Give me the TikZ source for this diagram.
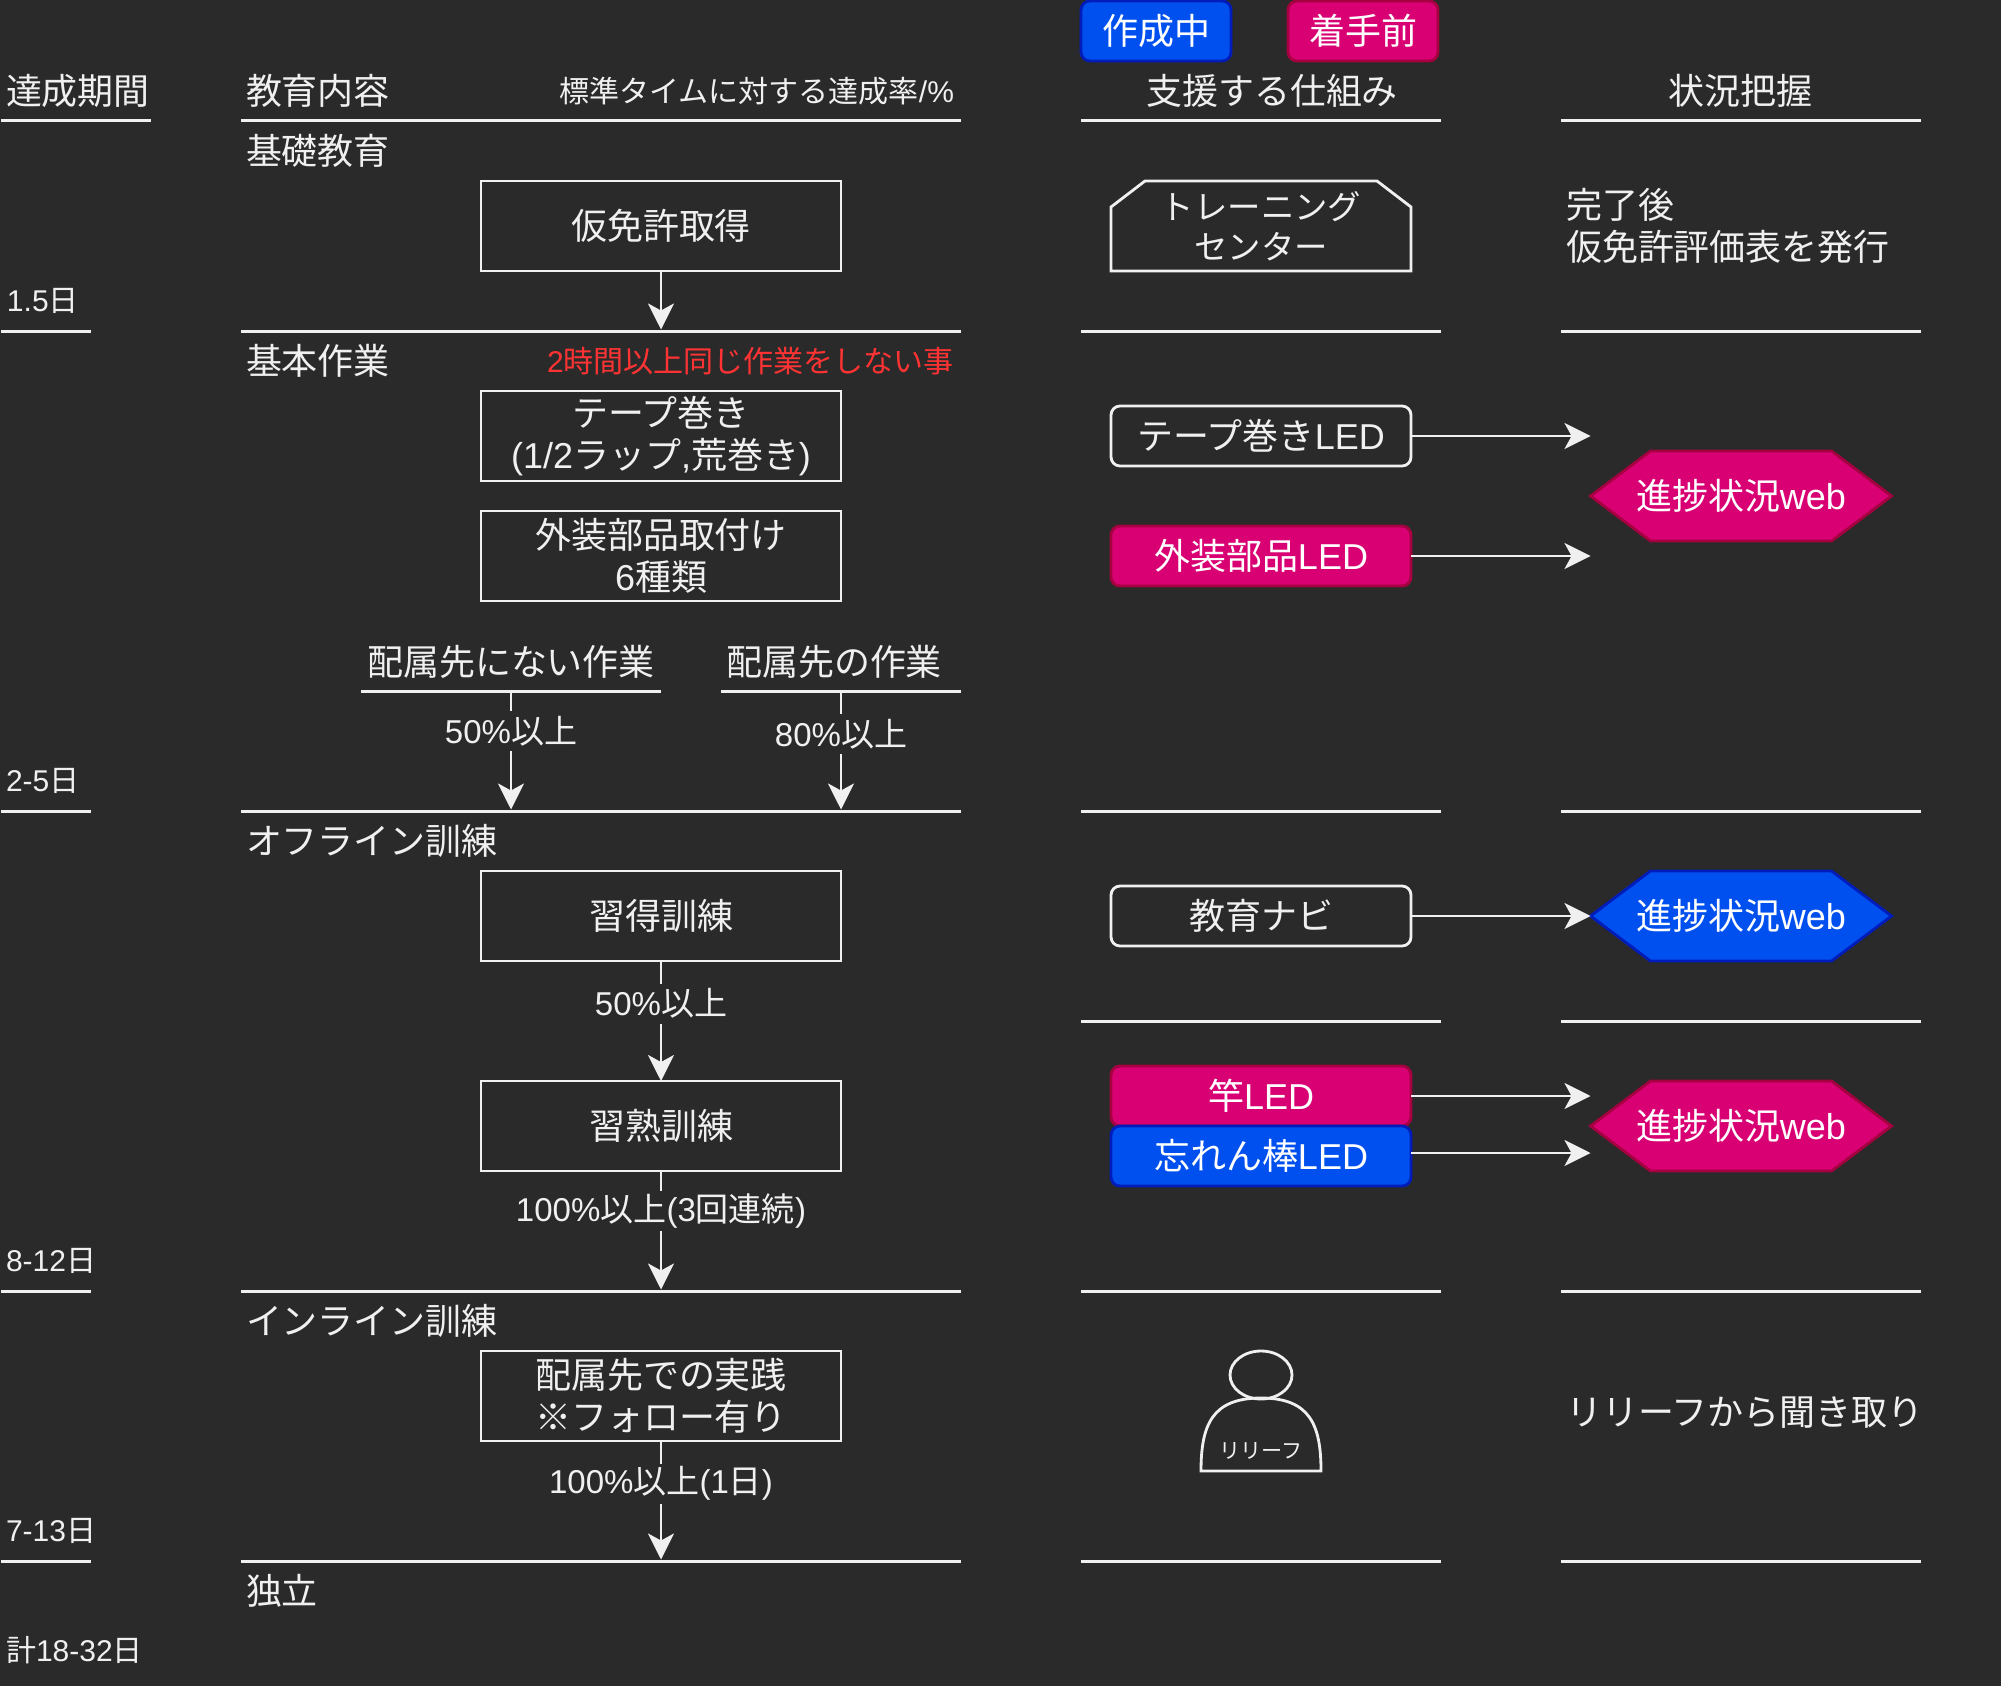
\documentclass[tikz,border=0pt]{standalone}
\usepackage{xcolor}
\usepackage{fontspec}
\setmainfont{Noto Sans CJK JP}
\newfontfamily\lat{Liberation Sans}
\usepackage{tikz}
\usetikzlibrary{arrows.meta, positioning, shapes.geometric, shapes.symbols}

\definecolor{bgc}{HTML}{2A2A2A}
\definecolor{fgc}{HTML}{F0F0F0}
\definecolor{pinkc}{HTML}{D80073}
\definecolor{pinkd}{HTML}{A50040}
\definecolor{bluec}{HTML}{0050EF}
\definecolor{blued}{HTML}{001DBC}
\definecolor{redc}{HTML}{FF3333}

\begin{document}
\begin{tikzpicture}[
    fgline/.style={draw=fgc, line width=0.8pt},
    rule/.style={rectangle, fill=fgc, inner sep=0pt, outer sep=0pt, minimum height=0.03cm},
    maintxt/.style={inner sep=0pt, outer sep=0pt, text=fgc, font=\fontsize{10.24pt}{12pt}\selectfont, align=center},
    smalltxt/.style={maintxt, font=\fontsize{8.54pt}{10pt}\selectfont},
    flowbox/.style={rectangle, fgline, maintxt, minimum width=3.6cm, minimum height=0.9cm},
    ledbox/.style={rectangle, maintxt, fgline, rounded corners=0.09cm, minimum width=3.0cm, minimum height=0.6cm},
    tagbox/.style={ledbox, minimum width=1.5cm},
    hexbox/.style={signal, signal to=west and east, signal pointer angle=73.74, maintxt, inner xsep=-0.145cm, minimum width=3.0cm, minimum height=0.9cm},
    pinkfill/.style={fill=pinkc, draw=pinkd, line width=0.8pt, text=white},
    bluefill/.style={fill=bluec, draw=blued, line width=0.8pt, text=white},
    arrow/.style={fgline, -{Stealth[length=0.26cm, width=0.26cm, inset=0.07cm]}},
    edgetxt/.style={maintxt, fill=bgc, minimum height=0.4cm, font=\fontsize{9.4pt}{11pt}\selectfont}
]
    \path [use as bounding box, fill=bgc] (0,0) rectangle (20.01,-16.86);

    % Legend
    \node (tag_wip) [tagbox, bluefill, at={(11.56,-0.31)}] {作成中};
    \node (tag_todo) [tagbox, pinkfill, at={(13.63,-0.31)}] {着手前};

    % Column heads
    \node (head_term) [maintxt, anchor=west, at={(0.06,-0.91)}] {達成期間};
    \node (head_edu) [maintxt, anchor=west, at={(2.46,-0.91)}] {教育内容};
    \node (head_rate) [smalltxt, anchor=east, at={(9.54,-0.91)}] {標準タイムに対する達成率{\lat /\%}};
    \node (head_sup) [maintxt, at={(12.72,-0.91)}] {支援する仕組み};
    \node (head_stat) [maintxt, at={(17.4,-0.91)}] {状況把握};

    % Rules: term column
    \node (rule_term0) [rule, minimum width=1.5cm, at={(0.76,-1.21)}] {};
    \node (rule_term1) [rule, minimum width=0.9cm, at={(0.46,-3.31)}] {};
    \node (rule_term2) [rule, minimum width=0.9cm, at={(0.46,-8.11)}] {};
    \node (rule_term3) [rule, minimum width=0.9cm, at={(0.46,-12.91)}] {};
    \node (rule_term4) [rule, minimum width=0.9cm, at={(0.46,-15.61)}] {};

    % Rules: education column
    \node (rule_edu0) [rule, minimum width=7.2cm, at={(6.01,-1.21)}] {};
    \node (rule_edu1) [rule, minimum width=7.2cm, at={(6.01,-3.31)}] {};
    \node (rule_edu2) [rule, minimum width=7.2cm, at={(6.01,-8.11)}] {};
    \node (rule_edu3) [rule, minimum width=7.2cm, at={(6.01,-12.91)}] {};
    \node (rule_edu4) [rule, minimum width=7.2cm, at={(6.01,-15.61)}] {};

    % Rules: support column
    \node (rule_sup0) [rule, minimum width=3.6cm, at={(12.61,-1.21)}] {};
    \node (rule_sup1) [rule, minimum width=3.6cm, at={(12.61,-3.31)}] {};
    \node (rule_sup2) [rule, minimum width=3.6cm, at={(12.61,-8.11)}] {};
    \node (rule_sup3) [rule, minimum width=3.6cm, at={(12.61,-10.21)}] {};
    \node (rule_sup4) [rule, minimum width=3.6cm, at={(12.61,-12.91)}] {};
    \node (rule_sup5) [rule, minimum width=3.6cm, at={(12.61,-15.61)}] {};

    % Rules: status column
    \node (rule_stat0) [rule, minimum width=3.6cm, at={(17.41,-1.21)}] {};
    \node (rule_stat1) [rule, minimum width=3.6cm, at={(17.41,-3.31)}] {};
    \node (rule_stat2) [rule, minimum width=3.6cm, at={(17.41,-8.11)}] {};
    \node (rule_stat3) [rule, minimum width=3.6cm, at={(17.41,-10.21)}] {};
    \node (rule_stat4) [rule, minimum width=3.6cm, at={(17.41,-12.91)}] {};
    \node (rule_stat5) [rule, minimum width=3.6cm, at={(17.41,-15.61)}] {};

    % Term labels
    \node (term_a) [smalltxt, anchor=west, at={(0.07,-3.01)}] {{\lat 1.5}日};
    \node (term_b) [smalltxt, anchor=west, at={(0.06,-7.81)}] {{\lat 2-5}日};
    \node (term_c) [smalltxt, anchor=west, at={(0.06,-12.61)}] {{\lat 8-12}日};
    \node (term_d) [smalltxt, anchor=west, at={(0.06,-15.31)}] {{\lat 7-13}日};
    \node (term_sum) [smalltxt, anchor=west, at={(0.06,-16.5)}] {計{\lat 18-32}日};

    % Section 1: basics
    \node (base_lbl) [maintxt, anchor=west, at={(2.46,-1.51)}] {基礎教育};
    \node (kari) [flowbox, below=0.6cm of rule_edu0.center, xshift=0.6cm] {仮免許取得};
    \node (center) [rectangle, maintxt, font=\fontsize{9.5pt}{11.4pt}\selectfont, minimum width=3.0cm, minimum height=0.9cm, below=0.6cm of rule_sup0.center] {トレーニング\\センター};
    \draw [fgline] (center.south west) -- ([yshift=-0.26cm]center.north west) -- ([xshift=0.34cm]center.north west) -- ([xshift=-0.34cm]center.north east) -- ([yshift=-0.26cm]center.north east) -- (center.south east) -- cycle;
    \node (after_lbl) [maintxt, align=left, anchor=west, at={(15.66,-2.26)}] {完了後\\仮免許評価表を発行};

    % Section 2: basic work
    \node (work_lbl) [maintxt, anchor=west, at={(2.46,-3.61)}] {基本作業};
    \node (work_note) [smalltxt, text=redc, anchor=east, at={(9.54,-3.61)}] {{\lat 2}時間以上同じ作業をしない事};
    \node (tape) [flowbox, below=0.6cm of rule_edu1.center, xshift=0.6cm] {テープ巻き\\{\lat (1/2}ラップ{\lat ,}荒巻き{\lat )}};
    \node (gaiso) [flowbox, below=0.3cm of tape] {外装部品取付け\\{\lat 6}種類};
    \node (no_task) [maintxt, at={(5.11,-6.62)}] {配属先にない作業};
    \node (no_rule) [rule, minimum width=3.0cm, at={(5.11,-6.91)}] {};
    \node (yes_task) [maintxt, at={(8.34,-6.62)}] {配属先の作業};
    \node (yes_rule) [rule, minimum width=2.4cm, at={(8.41,-6.91)}] {};
    \node (led_tape) [ledbox, at={(12.61,-4.36)}] {テープ巻き{\lat LED}};
    \node (led_gaiso) [ledbox, pinkfill, below=0.6cm of led_tape] {外装部品{\lat LED}};
    \node (hex_a) [hexbox, pinkfill, at={(17.41,-4.96)}] {進捗状況{\lat web}};

    % Section 3: offline training
    \node (off_lbl) [maintxt, anchor=west, at={(2.46,-8.41)}] {オフライン訓練};
    \node (shutoku) [flowbox, below=0.6cm of rule_edu2.center, xshift=0.6cm] {習得訓練};
    \node (shujuku) [flowbox, below=1.2cm of shutoku] {習熟訓練};
    \node (led_navi) [ledbox, at={(12.61,-9.16)}] {教育ナビ};
    \node (hex_b) [hexbox, bluefill, at={(17.41,-9.16)}] {進捗状況{\lat web}};
    \node (led_sao) [ledbox, pinkfill, below=0.45cm of rule_sup3.center] {竿{\lat LED}};
    \node (led_wasure) [ledbox, bluefill, below=0cm of led_sao] {忘れん棒{\lat LED}};
    \node (hex_c) [hexbox, pinkfill, at={(17.41,-11.26)}] {進捗状況{\lat web}};

    % Section 4: inline training
    \node (in_lbl) [maintxt, anchor=west, at={(2.46,-13.21)}] {インライン訓練};
    \node (jissen) [flowbox, below=0.6cm of rule_edu3.center, xshift=0.6cm] {配属先での実践\\※フォロー有り};
    \node (reli_head) [ellipse, fgline, minimum width=0.62cm, minimum height=0.48cm, inner sep=0pt, at={(12.61,-13.75)}] {};
    \node (reli_txt) [maintxt, font=\fontsize{6pt}{7pt}\selectfont, at={(12.61,-14.51)}] {リリーフ};
    \draw [fgline] (12.01,-14.71) .. controls (12.01,-14.25) and (12.12,-13.98) .. (12.61,-13.98) .. controls (13.1,-13.98) and (13.21,-14.25) .. (13.21,-14.71) -- cycle;
    \node (reli_lbl) [maintxt, anchor=west, at={(15.66,-14.13)}] {リリーフから聞き取り};

    % Section 5: end
    \node (end_lbl) [maintxt, anchor=west, at={(2.46,-15.91)}] {独立};

    % Arrows
    \draw [arrow] (kari.south) -- (kari.south |- rule_edu1.north);
    \draw [arrow] (no_rule.south) -- node [edgetxt, pos=0.33] {{\lat 50\%}以上} (no_rule.south |- rule_edu2.north);
    \draw [arrow] (yes_rule.south) -- node [edgetxt, pos=0.355] {{\lat 80\%}以上} (yes_rule.south |- rule_edu2.north);
    \draw [arrow] (shutoku.south) -- node [edgetxt, pos=0.355] {{\lat 50\%}以上} (shujuku.north);
    \draw [arrow] (shujuku.south) -- node [edgetxt, pos=0.335] {{\lat 100\%}以上{\lat (3}回連続{\lat )}} (shujuku.south |- rule_edu3.north);
    \draw [arrow] (jissen.south) -- node [edgetxt, pos=0.36] {{\lat 100\%}以上{\lat (1}日{\lat )}} (jissen.south |- rule_edu4.north);
    \draw [arrow] (led_tape.east) -- (led_tape.east -| hex_a.west);
    \draw [arrow] (led_gaiso.east) -- (led_gaiso.east -| hex_a.west);
    \draw [arrow] (led_navi.east) -- (hex_b.west);
    \draw [arrow] (led_sao.east) -- (led_sao.east -| hex_c.west);
    \draw [arrow] ([yshift=0.03cm]led_wasure.east) -- ([yshift=0.03cm]led_wasure.east -| hex_c.west);

\end{tikzpicture}
\end{document}
